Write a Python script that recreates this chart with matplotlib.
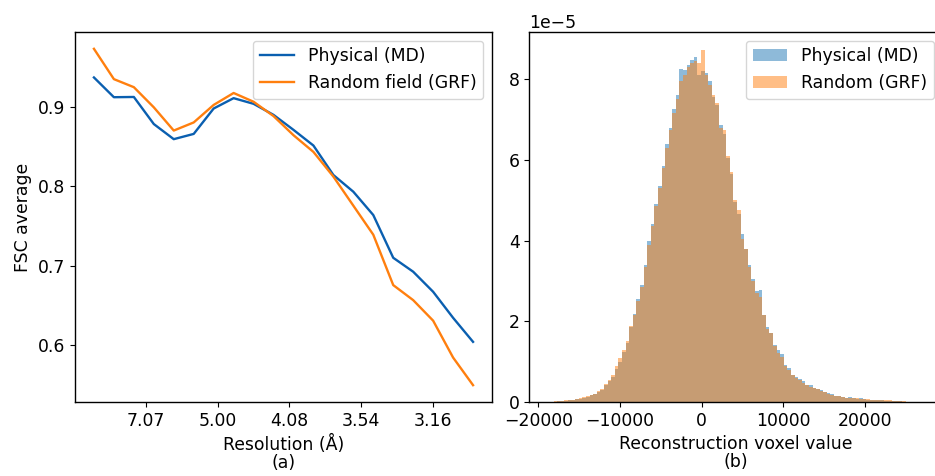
import numpy as np
import matplotlib
matplotlib.use("Agg")
import matplotlib.pyplot as plt

plt.rcParams["font.family"] = ["DejaVu Sans"]
plt.rcParams["font.size"] = 12.4
plt.rcParams["axes.linewidth"] = 1.0

# (a) FSC average per shell, x = squared spatial frequency (res = 10/sqrt(x))
shell_x = np.arange(1, 21) * 5 / 9
fsc_md = [0.9365, 0.9117, 0.912, 0.878, 0.859, 0.8656, 0.8975, 0.9105, 0.9034, 0.8895,
          0.8707, 0.851, 0.814, 0.793, 0.7637, 0.710, 0.6925, 0.6673, 0.6346, 0.6044]
fsc_grf = [0.9725, 0.9344, 0.9243, 0.899, 0.8698, 0.880, 0.902, 0.917, 0.906, 0.888,
           0.864, 0.843, 0.812, 0.7755, 0.739, 0.6757, 0.6568, 0.631, 0.5847, 0.550]
res_ticks = [2, 4, 6, 8, 10]

# (b) histogram densities (units of 1e-5), 100 bins between hist_lo and hist_hi
hist_lo, hist_hi = -19000, 25000
dens_md = [0.01, 0.01, 0.01, 0.02, 0.02, 0.03, 0.04, 0.05, 0.07, 0.08,
           0.11, 0.13, 0.17, 0.20, 0.24, 0.30, 0.41, 0.52, 0.62, 0.82,
           0.98, 1.24, 1.45, 1.85, 2.18, 2.55, 2.90, 3.40, 3.98, 4.42,
           4.90, 5.35, 5.85, 6.40, 6.80, 7.25, 7.60, 8.25, 8.22, 8.35,
           8.48, 8.55, 8.10, 8.20, 8.15, 7.95, 7.55, 7.35, 6.85, 6.65,
           6.05, 5.65, 4.95, 4.65, 4.15, 3.80, 3.40, 3.05, 2.75, 2.78,
           2.15, 1.85, 1.72, 1.42, 1.28, 1.20, 0.92, 0.85, 0.68, 0.63,
           0.56, 0.52, 0.42, 0.43, 0.35, 0.33, 0.30, 0.25, 0.22, 0.19,
           0.16, 0.15, 0.13, 0.10, 0.12, 0.09, 0.08, 0.09, 0.07, 0.06,
           0.06, 0.05, 0.05, 0.04, 0.03, 0.03, 0.03, 0.02, 0.02, 0.01]
dens_grf = [0.01, 0.01, 0.02, 0.02, 0.03, 0.04, 0.05, 0.06, 0.07, 0.10,
            0.12, 0.14, 0.17, 0.21, 0.26, 0.32, 0.44, 0.55, 0.68, 0.88,
            1.08, 1.30, 1.50, 1.88, 2.15, 2.50, 2.85, 3.35, 3.90, 4.35,
            4.85, 5.30, 5.80, 6.30, 6.75, 7.15, 7.50, 7.95, 8.10, 8.30,
            8.40, 8.45, 8.40, 8.73, 8.10, 7.85, 7.60, 7.40, 6.80, 6.75,
            6.10, 5.70, 5.00, 4.75, 4.05, 3.80, 3.35, 3.00, 2.70, 2.60,
            2.15, 1.80, 1.70, 1.38, 1.22, 1.12, 0.90, 0.80, 0.66, 0.60,
            0.55, 0.48, 0.42, 0.38, 0.34, 0.31, 0.28, 0.24, 0.20, 0.18,
            0.16, 0.14, 0.12, 0.11, 0.10, 0.09, 0.09, 0.08, 0.08, 0.07,
            0.06, 0.06, 0.05, 0.05, 0.04, 0.04, 0.03, 0.03, 0.02, 0.02]

fig = plt.figure(figsize=(9.35, 4.76), dpi=100)
ax1 = fig.add_axes([0.0802, 0.1555, 0.446, 0.7773])
ax2 = fig.add_axes([0.5661, 0.1555, 0.4422, 0.7773])

ax1.plot(shell_x, fsc_md, color="#0a5fb0", lw=1.7, label="Physical (MD)")
ax1.plot(shell_x, fsc_grf, color="#ff7f0e", lw=1.7, label="Random field (GRF)")
ax1.set_xticks(res_ticks)
ax1.set_xticklabels(["%.2f" % (10 / np.sqrt(t)) for t in res_ticks])
ax1.set_ylabel("FSC average")
ax1.set_xlabel("Resolution (Å)\n(a)", linespacing=1.0)
ax1.legend(loc="upper right")

edges = np.linspace(hist_lo, hist_hi, len(dens_md) + 1)
ax2.hist(edges[:-1], bins=edges, weights=np.array(dens_md) * 1e-5,
         alpha=0.5, color="C0", label="Physical (MD)")
ax2.hist(edges[:-1], bins=edges, weights=np.array(dens_grf) * 1e-5,
         alpha=0.5, color="C1", label="Random (GRF)")
ax2.set_xlim(-21100, 29500)
ax2.set_xticks([-20000, -10000, 0, 10000, 20000])
ax2.set_xlabel("Reconstruction voxel value\n(b)", linespacing=1.0)
ax2.legend(loc="upper right")

fig.savefig("out.png", dpi=100)
